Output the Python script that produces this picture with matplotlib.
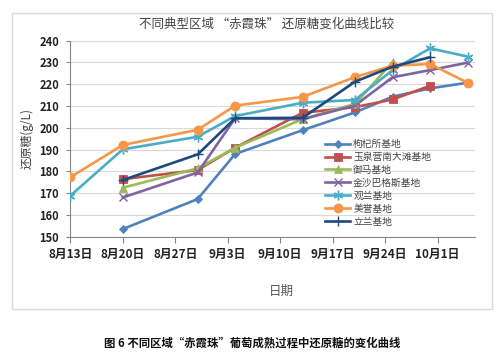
import datetime as dt

import matplotlib
matplotlib.use("Agg")
import matplotlib.pyplot as plt
from matplotlib.patches import Rectangle

plt.rcParams["font.family"] = ["Noto Sans CJK SC", "DejaVu Sans"]

YEAR = 2013
# sampling dates (month, day)
DATES_ALL = [(8, 13), (8, 20), (8, 30), (9, 4), (9, 13), (9, 20), (9, 25), (9, 30), (10, 5)]

names = ["枸杞所基地", "玉泉营南大滩基地", "御马基地", "金沙巴格斯基地", "观兰基地", "美誉基地", "立兰基地"]
# index range into DATES_ALL for each series
spans = [(1, 9), (1, 8), (1, 7), (1, 9), (0, 9), (0, 9), (1, 8)]
gouqi = [153.5, 167.3, 188.0, 198.9, 207.1, 214.3, 218.1, 220.7]
yuquan = [176.4, 180.6, 190.9, 206.9, 209.5, 213.0, 219.3]
yuma = [172.5, 181.4, 190.9, 204.0, 211.0, 230.2]
jinsha = [168.0, 179.5, 204.4, 203.9, 210.3, 223.2, 226.5, 229.9]
guanlan = [168.8, 190.1, 195.9, 205.4, 211.5, 212.8, 226.5, 236.5, 232.7]
meiyu = [177.3, 192.1, 199.1, 210.2, 214.2, 223.3, 228.5, 229.3, 220.7]
lilan = [176.0, 187.8, 204.4, 204.6, 221.2, 228.1, 232.4]
values = [gouqi, yuquan, yuma, jinsha, guanlan, meiyu, lilan]

colors = ["#4F81BD", "#C0504D", "#9BBB59", "#8064A2", "#4BACC6", "#F79646", "#1F497D"]
markers = ["D", "s", "^", "x", (6, 2, 0), "o", "+"]
msizes = [4.5, 5.5, 5.5, 5.5, 7, 6.5, 7]

tick_days = [(8, 13), (8, 20), (8, 27), (9, 3), (9, 10), (9, 17), (9, 24), (10, 1)]
yticks = [150, 160, 170, 180, 190, 200, 210, 220, 230, 240]

fig = plt.figure(figsize=(5.0, 3.59), dpi=100)
W, H = 500, 359
fig.patches.append(Rectangle((11.7 / W, 1 - 309.3 / H), 480 / W, 296 / H,
                             transform=fig.transFigure, fill=False,
                             edgecolor="#D9D9D9", linewidth=1))

ax = fig.add_axes([70.3 / W, 1 - 236.7 / H, (475 - 70.3) / W, (236.7 - 40.7) / H])

dates_all = [dt.date(YEAR, m, d) for m, d in DATES_ALL]
for name, (a, b), vals, c, mk, ms in zip(names, spans, values, colors, markers, msizes):
    thin = mk in ("x", "+") or isinstance(mk, tuple)
    ax.plot(dates_all[a:b], vals, color=c, lw=1.9, marker=mk, ms=ms,
            mew=1.0 if thin else 0.6, mec=c, mfc=c, label=name, zorder=3)

ax.set_ylim(150, 240)
ax.set_yticks(yticks)
ax.set_xlim(dt.date(YEAR, 8, 13), dt.date(YEAR, 10, 6))
tdates = [dt.date(YEAR, m, d) for m, d in tick_days]
ax.set_xticks(tdates)
ax.set_xticklabels([f"{m}月{d}日" for m, d in tick_days])

ax.grid(axis="y", color="#D9D9D9", lw=0.8)
ax.set_axisbelow(True)
for s in ("top", "right"):
    ax.spines[s].set_visible(False)
for s in ("left", "bottom"):
    ax.spines[s].set_color("#868686")
    ax.spines[s].set_linewidth(0.8)
ax.tick_params(axis="x", length=4, color="#868686", labelsize=8.5, labelcolor="#222222", pad=4)
ax.tick_params(axis="y", length=3, color="#868686", labelsize=8, labelcolor="#222222", pad=5)
for lab in ax.get_xticklabels() + ax.get_yticklabels():
    lab.set_fontweight("bold")

ax.set_ylabel("还原糖(g/L)", fontsize=8.5, color="#444444", labelpad=4)
fig.text(281 / W, 1 - 291.7 / H, "日期", fontsize=9, color="#555555", ha="center", va="center")
fig.text(267 / W, 1 - 24 / H, "不同典型区域 “赤霞珠” 还原糖变化曲线比较", fontsize=9,
         color="#444444", ha="center", va="center")
fig.text(252.5 / W, 1 - 343 / H, "图 6 不同区域“赤霞珠”葡萄成熟过程中还原糖的变化曲线",
         fontsize=8.2, fontweight="bold", color="#111111", ha="center", va="center")

leg = ax.legend(loc="upper left", bbox_to_anchor=((325 - 70.3) / (475 - 70.3), (236.7 - 139) / 196),
                frameon=False, fontsize=7, handlelength=2.6, handletextpad=0.3,
                labelspacing=0.3, borderaxespad=0, borderpad=0)
for t in leg.get_texts():
    t.set_color("#444444")

fig.savefig("out.png", dpi=100)
